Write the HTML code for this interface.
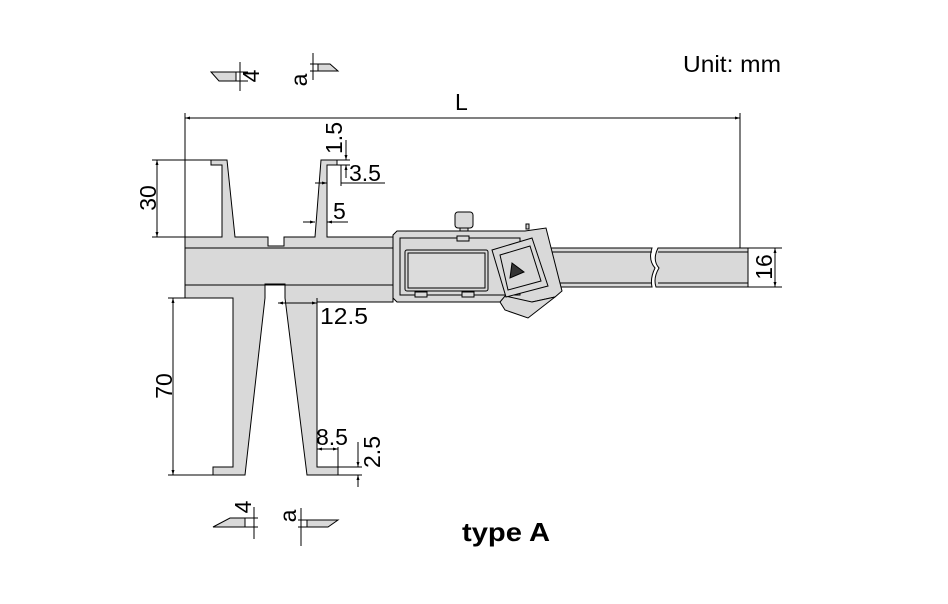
<!DOCTYPE html>
<html><head><style>html,body{margin:0;padding:0;background:#fff}svg{display:block}</style></head><body>
<svg width="948" height="604" viewBox="0 0 948 604" xmlns="http://www.w3.org/2000/svg" font-family="Liberation Sans, Arial, sans-serif">
<defs>
<marker id="a" viewBox="0 0 10 10" refX="10" refY="5" markerWidth="5" markerHeight="5" orient="auto-start-reverse"><path d="M0,2 L10,5 L0,8z" fill="#000"/></marker>
</defs>
<g stroke="#000" stroke-width="1" fill="#d9d9d9">
<path d="M185,237 L222,237 L222,165 L211,165 L211,160 L227,160 L235,237 L268,237 L268,246 L284,246 L284,237 L315,237 L321,160 L337,160 L337,165 L327,165 L327,237 L393,237 L393,302 L317,302 L317,467 L338,467 L338,475 L307,475 L285,298 L285,284 L265,284 L265,298 L245,475 L213,475 L213,467 L233,467 L233,298 L185,298 Z"/>
<line x1="185" y1="248" x2="393" y2="248"/>
<line x1="185" y1="285" x2="393" y2="285"/>
<path d="M540,248 L652,248 Q648,260 655,268 Q650,278 652,287 L540,287 Z"/>
<path d="M658,248 L748,248 L748,287 L656,287 Q653,278 659,268 Q652,260 658,248 Z"/>
<line x1="540" y1="252" x2="652" y2="252"/><line x1="658" y1="252" x2="748" y2="252"/>
<line x1="540" y1="283" x2="652" y2="283"/><line x1="658" y1="283" x2="748" y2="283"/>
<rect x="460" y="227" width="8" height="6"/>
<rect x="455" y="212" width="18" height="16" rx="3"/>
<path d="M397,231 L525,231 L546,228 L562,291 L555,297 L532,302 L397,302 L393,298 L393,235 Z"/>
<path d="M500,302 L505,296 L532,302 L555,297 L528,318 L505,310 Z"/>
<path d="M400,238 L520,238 L520,295 L400,295 Z" fill="none"/>
<rect x="405" y="250" width="83" height="41" rx="2"/>
<rect x="408" y="253" width="77" height="35" fill="#dcdcdc"/>
<rect x="457" y="236" width="12" height="5"/>
<rect x="415" y="292" width="12" height="5"/>
<rect x="462" y="292" width="12" height="5"/>
<path d="M492,250 L532,238 L548,286 L506,297 Z"/>
<path d="M500,255 L530,246 L541,281 L508,290 Z" fill="none"/>
<path d="M512,263 L524,272 L510,278 Z" fill="#333"/>
<rect x="526" y="224" width="3" height="5"/>
</g>
<g stroke="#000" stroke-width="1" fill="none">
<line x1="185" y1="113" x2="185" y2="237"/>
<line x1="740" y1="113" x2="740" y2="248"/>
<line x1="185" y1="118" x2="740" y2="118" marker-start="url(#a)" marker-end="url(#a)"/>
<line x1="152" y1="160" x2="211" y2="160"/>
<line x1="152" y1="237" x2="185" y2="237"/>
<line x1="157" y1="160" x2="157" y2="237" marker-start="url(#a)" marker-end="url(#a)"/>
<line x1="168" y1="298" x2="185" y2="298"/>
<line x1="168" y1="475" x2="213" y2="475"/>
<line x1="173" y1="298" x2="173" y2="475" marker-start="url(#a)" marker-end="url(#a)"/>
<line x1="748" y1="248" x2="782" y2="248"/>
<line x1="748" y1="287" x2="782" y2="287"/>
<line x1="775" y1="248" x2="775" y2="287" marker-start="url(#a)" marker-end="url(#a)"/>
<line x1="337" y1="160" x2="350" y2="160"/>
<line x1="337" y1="165" x2="350" y2="165"/>
<line x1="346" y1="140" x2="346" y2="160" marker-end="url(#a)"/>
<line x1="346" y1="178" x2="346" y2="165" marker-end="url(#a)"/>
<line x1="341" y1="165" x2="341" y2="186"/>
<line x1="315" y1="183" x2="327" y2="183" marker-end="url(#a)"/>
<line x1="341" y1="183" x2="385" y2="183"/>
<line x1="303" y1="222" x2="315" y2="222" marker-end="url(#a)"/>
<line x1="327" y1="222" x2="348" y2="222" marker-start="url(#a)"/>
<line x1="317" y1="298" x2="317" y2="306"/>
<line x1="278" y1="303" x2="285" y2="303" marker-start="url(#a)"/>
<line x1="285" y1="303" x2="317" y2="303" marker-end="url(#a)"/>
<line x1="338" y1="447" x2="338" y2="475"/>
<line x1="317" y1="449" x2="338" y2="449" marker-start="url(#a)" marker-end="url(#a)"/>
<line x1="338" y1="467" x2="362" y2="467"/>
<line x1="338" y1="475" x2="362" y2="475"/>
<line x1="358" y1="442" x2="358" y2="467" marker-end="url(#a)"/>
<line x1="358" y1="487" x2="358" y2="475" marker-end="url(#a)"/>
</g>
<g stroke="#000" stroke-width="1">
<path d="M211,72 L236,72 L236,81 L219,81 Z" fill="#d9d9d9"/>
<line x1="236" y1="72" x2="248" y2="72"/><line x1="236" y1="81" x2="248" y2="81"/>
<line x1="240" y1="62" x2="240" y2="91"/>
<path d="M318,64 L330,64 L338,71 L318,71 Z" fill="#d9d9d9"/>
<line x1="310" y1="64" x2="318" y2="64"/><line x1="310" y1="71" x2="318" y2="71"/>
<line x1="313" y1="53" x2="313" y2="80"/>
<path d="M213,527 L230,518 L245,518 L245,527 Z" fill="#d9d9d9"/>
<line x1="245" y1="518" x2="258" y2="518"/><line x1="245" y1="527" x2="258" y2="527"/>
<line x1="254" y1="507" x2="254" y2="539"/>
<path d="M307,527 L328,527 L338,520 L307,520 Z" fill="#d9d9d9"/>
<line x1="298" y1="520" x2="307" y2="520"/><line x1="298" y1="527" x2="307" y2="527"/>
<line x1="301" y1="508" x2="301" y2="546"/>
</g>
<g fill="#000" font-size="23">
<text x="683" y="72" textLength="98" lengthAdjust="spacingAndGlyphs">Unit: mm</text>
<text x="455" y="110">L</text>
<text x="349" y="181">3.5</text>
<text x="333" y="219">5</text>
<text x="320" y="324" textLength="48" lengthAdjust="spacingAndGlyphs">12.5</text>
<text x="316" y="445">8.5</text>
<text transform="translate(156,198) rotate(-90)" text-anchor="middle">30</text>
<text transform="translate(172,386) rotate(-90)" text-anchor="middle">70</text>
<text transform="translate(772,267) rotate(-90)" text-anchor="middle">16</text>
<text transform="translate(342,138) rotate(-90)" text-anchor="middle">1.5</text>
<text transform="translate(380,452) rotate(-90)" text-anchor="middle">2.5</text>
<text transform="translate(259,76) rotate(-90)" text-anchor="middle">4</text>
<text transform="translate(307,80) rotate(-90)" text-anchor="middle">a</text>
<text transform="translate(251,507) rotate(-90)" text-anchor="middle">4</text>
<text transform="translate(296,516) rotate(-90)" text-anchor="middle">a</text>
<text x="462" y="541" font-size="26" font-weight="bold" textLength="88" lengthAdjust="spacingAndGlyphs">type A</text>
</g>
</svg>
</body></html>
